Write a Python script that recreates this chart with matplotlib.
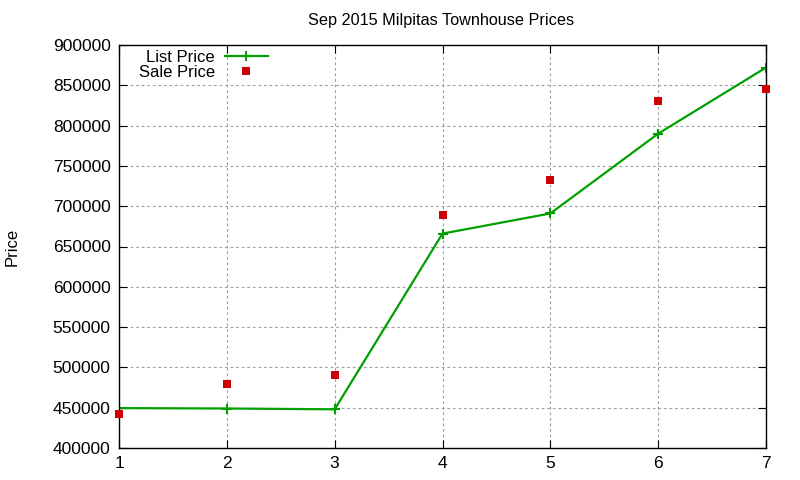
import matplotlib
matplotlib.use("Agg")
import matplotlib.pyplot as plt

# listing index on the x axis
x_vals = [1, 2, 3, 4, 5, 6, 7]
list_price = [449500, 449000, 448000, 666000, 691000, 790000, 872000]
sale_price = [442000, 480000, 490000, 689000, 732000, 830000, 845500]

y_ticks = [400000, 450000, 500000, 550000, 600000, 650000, 700000, 750000, 800000, 850000, 900000]

plt.rcParams['font.family'] = ['Liberation Sans', 'DejaVu Sans']

fig = plt.figure(figsize=(8, 4.8), dpi=100)
ax = fig.add_axes([119 / 800, 1 - 448 / 480, (766 - 119) / 800, (448 - 45) / 480])

ax.plot(x_vals, list_price, color='#00a000', linewidth=1.6, marker='+',
        markersize=7, markeredgewidth=1.5, label='List Price')
ax.plot(x_vals, sale_price, linestyle='none', color='#cc0000', marker='s',
        markersize=5.8, markeredgewidth=0, label='Sale Price', clip_on=False, zorder=3)

ax.set_xlim(1, 7)
ax.set_ylim(400000, 900000)
ax.set_xticks(x_vals)
ax.set_yticks(y_ticks)
ax.tick_params(direction='in', top=True, right=True, labelsize=12.5, length=6, pad=6)
ax.grid(True, color='#a0a0a0', linestyle=(0, (2.5, 2.5)), linewidth=0.8)
for s in ax.spines.values():
    s.set_linewidth(1)

fig.text(441 / 800, 1 - 21 / 480, 'Sep 2015 Milpitas Townhouse Prices', ha='center', va='center', fontsize=11.7)
fig.text(12 / 800, 1 - 247 / 480, 'Price', rotation=90, ha='center', va='center', fontsize=12)

leg = ax.legend(loc='upper right', bbox_to_anchor=(268 / 800, 1 - 50 / 480), bbox_transform=fig.transFigure,
                markerfirst=False, frameon=False, fontsize=12, handlelength=2.6, borderpad=0,
                borderaxespad=0, labelspacing=0.0, handletextpad=0.6)
for t in leg.get_texts():
    t.set_ha('right')

fig.savefig('out.png', dpi=100)
